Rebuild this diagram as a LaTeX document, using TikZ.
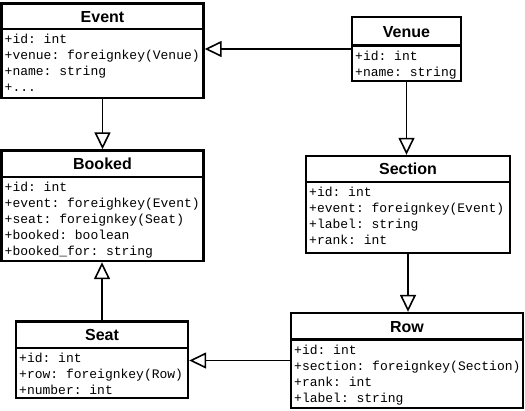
\documentclass[tikz,border=0pt]{standalone}
\usepackage{fontspec}
\setmainfont{Liberation Sans}
\setmonofont{Liberation Mono}
\usetikzlibrary{arrows.meta,fit}
\newcommand\umldots{...}
\tikzset{
  classbox/.style={draw, line width=2.4pt, fill=white, inner sep=0pt},
  divider/.style={line width=2.4pt},
  title/.style={font=\fontsize{16}{16}\selectfont\bfseries, anchor=base, inner sep=0pt},
  attr/.style={font=\fontsize{13}{16}\selectfont\ttfamily, anchor=base west, inner sep=0pt},
  inherit/.style={line width=1.6pt, -{Triangle[open, length=17pt, width=16pt]}},
}
\newcommand\umlclass[8]{%
  \node[classbox, fit={(#2,#3) (#4,#5)}] (#1) {};
  \draw[divider] (#2,#6) -- (#4,#6);
  \node[title] (#1-title) at ({(#2+#4)/2}, {(#3+#6)/2+5.8}) {#7};
  \foreach \t [count=\i] in {#8}
    \node[attr] (#1-a\i) at ({#2+3}, {#6+14.5+16*(\i-1)}) {\t};
}
\begin{document}
\begin{tikzpicture}[x=1pt, y=-1pt]
\useasboundingbox (0,0) rectangle (525,410);
\umlclass{event}{1.5}{3.5}{203.5}{98}{29}{Event}{+id: int, +venue: foreignkey(Venue), +name: string, +\umldots}
\umlclass{venue}{352}{17}{461}{81}{45.5}{Venue}{+id: int, +name: string}
\umlclass{booked}{1.5}{150.5}{203.5}{261}{177}{Booked}{+id: int, +event: foreighkey(Event), +seat: foreignkey(Seat), +booked: boolean, +booked\_for: string}
\umlclass{section}{306}{156}{510}{253}{182}{Section}{+id: int, +event: foreignkey(Event), +label: string, +rank: int}
\umlclass{seat}{16}{321.5}{188}{398}{348}{Seat}{+id: int, +row: foreignkey(Row), +number: int}
\umlclass{row}{291}{313}{523}{408}{339.5}{Row}{+id: int, +section: foreignkey(Section), +rank: int, +label: string}

\draw[inherit] (venue.west) -- (venue.west -| event.east);
\draw[inherit] (event.south) -- (booked.north);
\draw[inherit] (venue.south) -- (venue.south |- section.north);
\draw[inherit] (section.south) -- (section.south |- row.north);
\draw[inherit] (seat.north) -- (seat.north |- booked.south);
\draw[inherit] (row.west) -- (row.west -| seat.east);
\end{tikzpicture}
\end{document}
